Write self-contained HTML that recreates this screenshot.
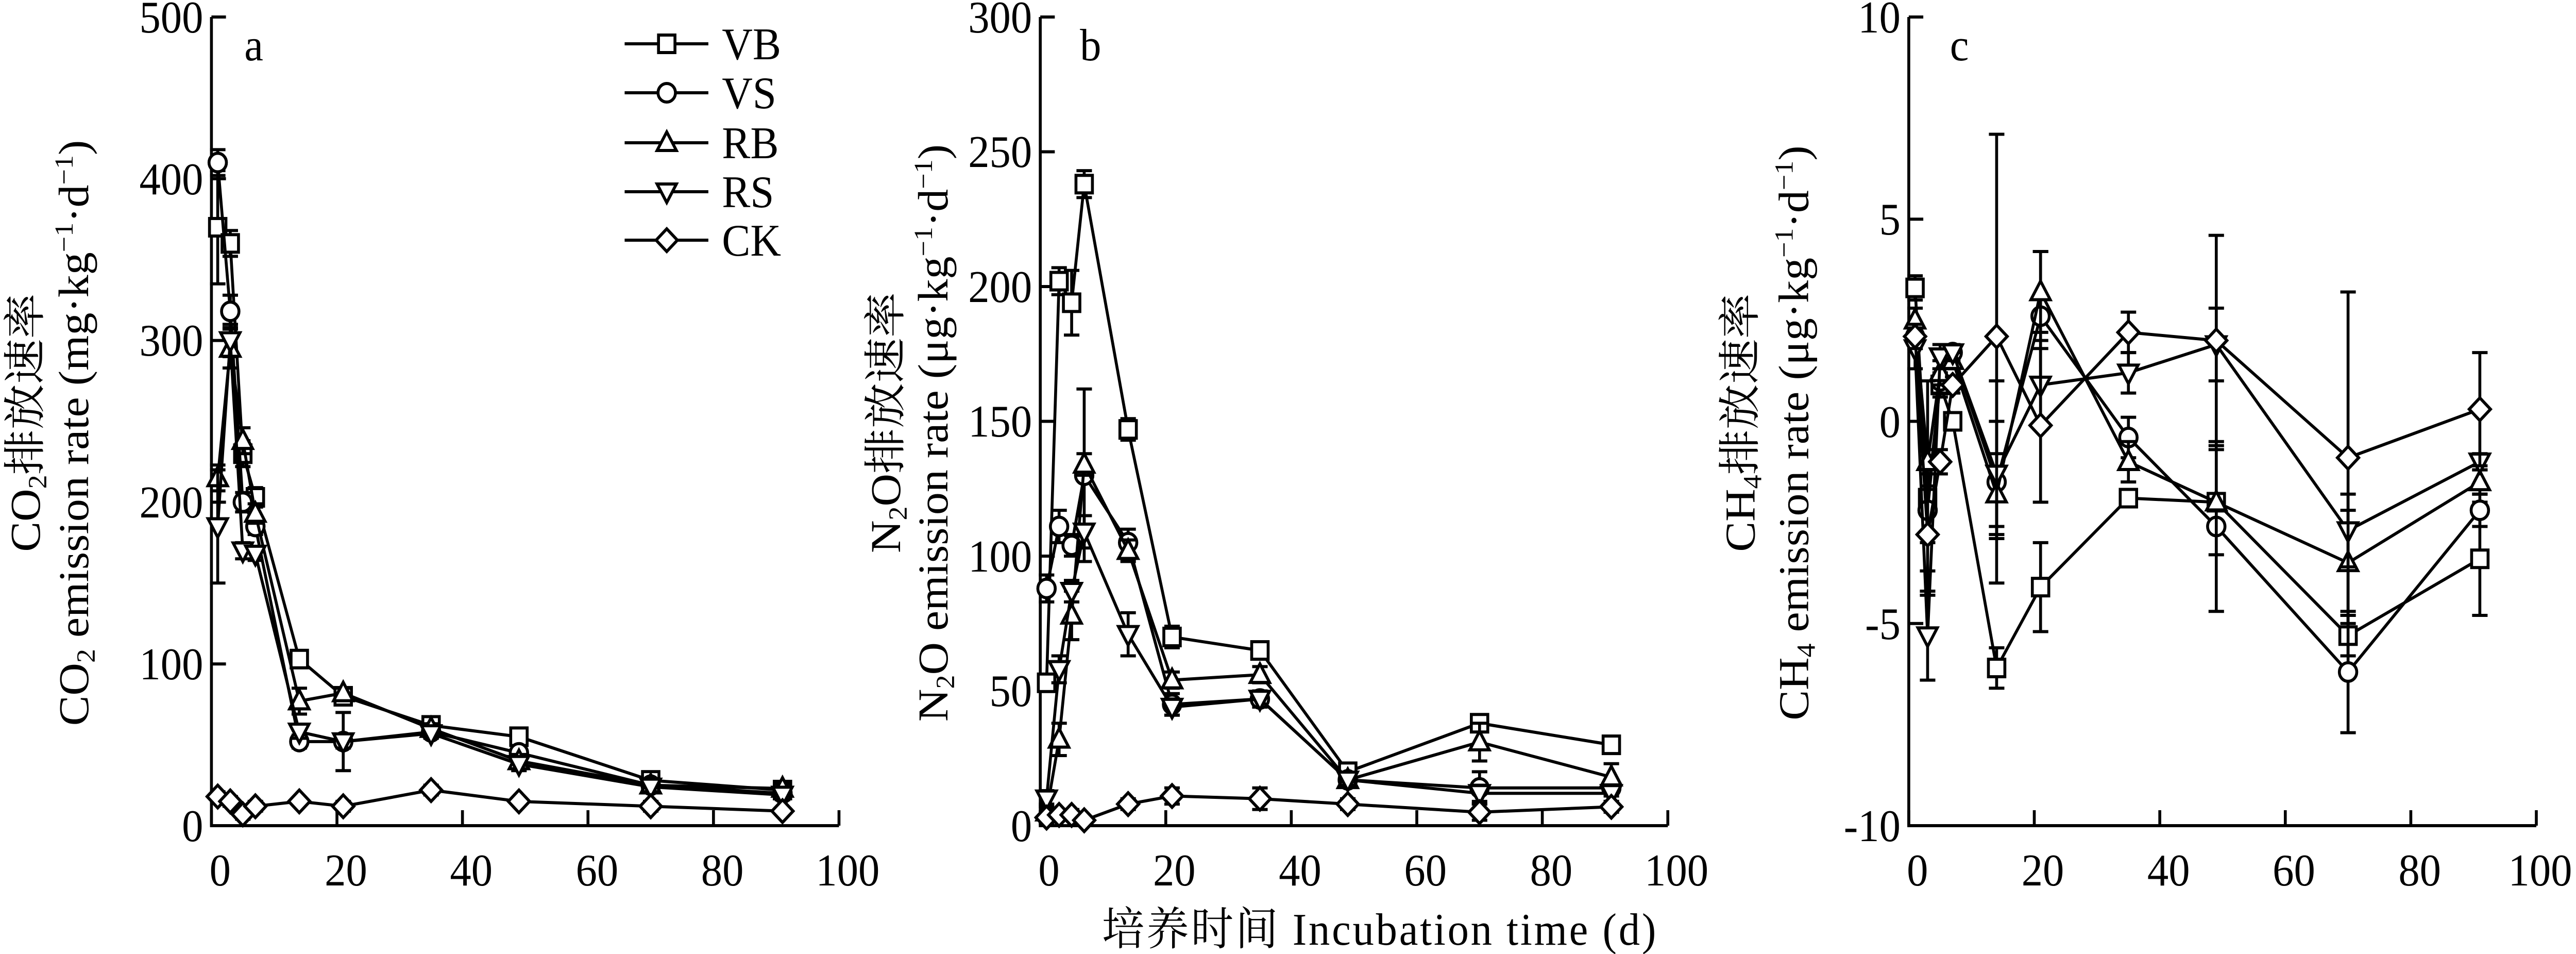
<!DOCTYPE html>
<html><head><meta charset="utf-8"><style>
html,body{margin:0;padding:0;background:#fff;overflow:hidden;}
svg{display:block;width:100vw;height:100vh;font-family:"Liberation Serif","Noto Serif CJK SC",serif;}
</style></head><body>
<svg id="s" viewBox="0 0 5324 1851" preserveAspectRatio="none" xmlns="http://www.w3.org/2000/svg">
<g font-size="88" fill="#000">
<g text-anchor="end">
<text x="420" y="63">500</text><text x="420" y="377">400</text><text x="420" y="690">300</text>
<text x="420" y="1004">200</text><text x="420" y="1318">100</text><text x="420" y="1632">0</text>
<text x="2133" y="63">300</text><text x="2133" y="324">250</text><text x="2133" y="586">200</text>
<text x="2133" y="847">150</text><text x="2133" y="1109">100</text><text x="2133" y="1370">50</text><text x="2133" y="1632">0</text>
<text x="3928" y="63">10</text><text x="3928" y="455">5</text><text x="3928" y="848">0</text>
<text x="3928" y="1240">-5</text><text x="3928" y="1632">-10</text>
</g>
<g text-anchor="middle">
<text x="455" y="1718">0</text><text x="715" y="1718">20</text><text x="974" y="1718">40</text><text x="1234" y="1718">60</text><text x="1493" y="1718">80</text><text x="1752" y="1718">100</text>
<text x="2168" y="1718">0</text><text x="2427" y="1718">20</text><text x="2687" y="1718">40</text><text x="2946" y="1718">60</text><text x="3206" y="1718">80</text><text x="3465" y="1718">100</text>
<text x="3963" y="1718">0</text><text x="4222" y="1718">20</text><text x="4482" y="1718">40</text><text x="4741" y="1718">60</text><text x="5001" y="1718">80</text><text x="5250" y="1718">100</text>
<text x="2852" y="1833" letter-spacing="4">培养时间  Incubation time (d)</text>
</g>
<text x="505" y="117">a</text><text x="2232" y="117">b</text><text x="4030" y="117">c</text>
<text x="1492" y="115">VB</text><text x="1492" y="210">VS</text><text x="1492" y="307">RB</text><text x="1492" y="402">RS</text><text x="1492" y="496">CK</text>
<g text-anchor="middle">
<text transform="translate(82,820) rotate(-90)">CO<tspan font-size="54" dy="14">2</tspan><tspan dy="-14">排放速率</tspan></text>
<text transform="translate(182,840) rotate(-90)">CO<tspan font-size="54" dy="14">2</tspan><tspan dy="-14"> emission rate (mg·kg</tspan><tspan font-size="54" dy="-32">−1</tspan><tspan dy="32">·d</tspan><tspan font-size="54" dy="-32">−1</tspan><tspan dy="32">)</tspan></text>
<text transform="translate(1860,820) rotate(-90)">N<tspan font-size="54" dy="14">2</tspan><tspan dy="-14">O排放速率</tspan></text>
<text transform="translate(1958,840) rotate(-90)">N<tspan font-size="54" dy="14">2</tspan><tspan dy="-14">O emission rate (μg·kg</tspan><tspan font-size="54" dy="-32">−1</tspan><tspan dy="32">·d</tspan><tspan font-size="54" dy="-32">−1</tspan><tspan dy="32">)</tspan></text>
<text transform="translate(3626,820) rotate(-90)">CH<tspan font-size="54" dy="14">4</tspan><tspan dy="-14">排放速率</tspan></text>
<text transform="translate(3737,840) rotate(-90)">CH<tspan font-size="54" dy="14">4</tspan><tspan dy="-14"> emission rate (μg·kg</tspan><tspan font-size="54" dy="-32">−1</tspan><tspan dy="32">·d</tspan><tspan font-size="54" dy="-32">−1</tspan><tspan dy="32">)</tspan></text>
</g>
</g>
<g id="g" fill="none" stroke="#000" stroke-width="6"></g>
</svg>
<script>
var g=document.getElementById('g'),NS='http://www.w3.org/2000/svg';
function el(t,a){var e=document.createElementNS(NS,t);for(var k in a)e.setAttribute(k,a[k]);g.appendChild(e);return e;}
function mk(type,x,y){var r=17;
 if(type==0)el('rect',{x:x-r,y:y-r,width:2*r,height:2*r,fill:'#fff'});
 else if(type==1)el('circle',{cx:x,cy:y,r:r+1,fill:'#fff'});
 else if(type==2)el('polygon',{points:(x)+','+(y-r-4)+' '+(x+r+3)+','+(y+r-2)+' '+(x-r-3)+','+(y+r-2),fill:'#fff'});
 else if(type==3)el('polygon',{points:(x)+','+(y+r+4)+' '+(x+r+3)+','+(y-r+2)+' '+(x-r-3)+','+(y-r+2),fill:'#fff'});
 else el('polygon',{points:x+','+(y-r-5)+' '+(x+r+5)+','+y+' '+x+','+(y+r+5)+' '+(x-r-5)+','+y,fill:'#fff'});
}
var days=[1,3,5,7,14,21,35,49,70,91];
var P=[
 {x0:437,x1:1734,ymin:0,ymax:500,yt:[0,100,200,300,400,500],d:[
  [370,360,230,203,103,80,62,55,28,22],[410,318,200,185,52,52,58,45,25,20],
  [215,295,238,193,77,82,60,40,25,23],[185,300,170,168,58,52,57,38,24,19],[18,15,7,12,15,12,22,15,12,9]],
  e:[[35,8,8,6,4,3,3,4,4,3],[8,10,6,5,4,18,3,4,3,3],[8,12,8,6,8,3,3,4,3,3],[35,10,5,4,4,4,3,4,3,3],[3,3,3,3,2,3,3,2,3,2]]},
 {x0:2150,x1:3447,ymin:0,ymax:300,yt:[0,50,100,150,200,250,300],d:[
  [53,202,194,238,147,70,65,20,38,30],[88,111,104,130,105,45,47,17,14,14],
  [5,32,78,134,102,54,56,17,31,18],[10,58,87,109,71,44,47,17,12,12],[3,4,4,2,8,11,10,8,5,7]],
  e:[[3,5,12,5,4,4,3,2,3,2],[5,6,4,32,5,4,3,2,6,3],[3,6,9,4,4,3,3,2,7,5],[3,5,4,6,8,3,3,2,3,3],[2,2,2,1,2,3,4,2,3,2]]},
 {x0:3945,x1:5242,ymin:-10,ymax:10,yt:[-10,-5,0,5,10],d:[
  [3.3,-1.9,0.9,0,-6.1,-4.1,-1.9,-2,-5.3,-3.4],[2.1,-2.2,1.0,1.7,-1.5,2.6,-0.4,-2.6,-6.2,-2.2],
  [2.5,-1.0,1.2,1.5,-1.8,3.2,-1.0,-2.0,-3.5,-1.5],[1.8,-5.3,1.6,1.7,-1.3,0.9,1.2,1.9,-2.7,-1.0],[2.1,-2.8,-1.0,0.9,2.1,-0.1,2.2,2.0,-0.9,0.3]],
  e:[[0.3,0.3,0.3,0.2,0.5,1.1,0.1,0.2,0.5,1.4],[0.3,1.5,0.3,0.2,2.5,1.6,0.5,2.1,1.5,0.4],[0.3,2,0.3,0.2,1.0,1.0,0.5,1.3,1.3,0.3],[0.5,1.1,0.3,0.2,1.3,1.1,0.5,0.9,0.9,0.2],[0.3,1.5,0.3,0.2,5.0,1.9,0.5,2.6,4.1,1.4]]}
];
var T=33,B=1602;
P.forEach(function(p){
 function X(v){return p.x0+(p.x1-p.x0)*v/100;}
 function Y(v){return B-(B-T)*(v-p.ymin)/(p.ymax-p.ymin);}
 el('polyline',{points:p.x0+','+T+' '+p.x0+','+B+' '+p.x1+','+B});
 p.yt.forEach(function(v){el('line',{x1:p.x0,y1:Y(v),x2:p.x0+30,y2:Y(v)});});
 for(var i=0;i<=5;i++){var xx=X(i*20);el('line',{x1:xx,y1:B,x2:xx,y2:B-30});}
 p.d.forEach(function(s,si){
  el('polyline',{points:s.map(function(v,i){return X(days[i])+','+Y(v);}).join(' ')});
  s.forEach(function(v,i){var x=X(days[i]),e=p.e[si][i];
   el('line',{x1:x,y1:Y(v-e),x2:x,y2:Y(v+e)});
   el('line',{x1:x-16,y1:Y(v+e),x2:x+16,y2:Y(v+e)});el('line',{x1:x-16,y1:Y(v-e),x2:x+16,y2:Y(v-e)});});
  s.forEach(function(v,i){mk(si,X(days[i]),Y(v));});
 });
});
[85,180,277,372,466].forEach(function(y,i){el('line',{x1:1291,y1:y,x2:1464,y2:y});mk(i,1378,y);});
</script>
</body></html>
